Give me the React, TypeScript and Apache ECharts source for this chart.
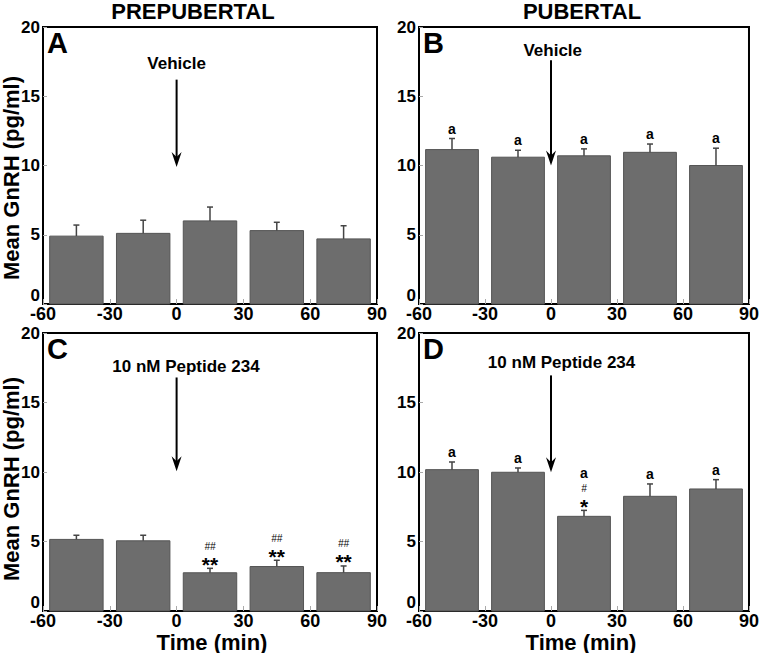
import React, { useEffect, useRef } from "react";
import * as echarts from "echarts";

// ---- data ----
const timePoints = [-45, -15, 15, 45, 75];
const xTicks = [-60, -30, 0, 30, 60, 90];
const yTicks = [0, 5, 10, 15, 20];

const prepVehicleMean = [4.9, 5.1, 6.0, 5.3, 4.7];
const prepVehicleSem = [0.8, 0.95, 1.0, 0.6, 0.95];
const prepVehicleSig = ["", "", "", "", ""];

const pubVehicleMean = [11.15, 10.6, 10.7, 10.95, 10.0];
const pubVehicleSem = [0.8, 0.5, 0.5, 0.6, 1.25];
const pubVehicleSig = ["a", "a", "a", "a", "a"];

const prepPeptideMean = [5.15, 5.05, 2.75, 3.2, 2.76];
const prepPeptideSem = [0.3, 0.4, 0.32, 0.45, 0.48];
const prepPeptideSig = ["", "", "##|**", "##|**", "##|**"];

const pubPeptideMean = [10.17, 9.98, 6.81, 8.25, 8.78];
const pubPeptideSem = [0.55, 0.31, 0.43, 0.89, 0.67];
const pubPeptideSig = ["a", "a", "a|#|*", "a", "a"];

const panelLetters = ["A", "B", "C", "D"];
const treatments = ["Vehicle", "Vehicle", "10 nM Peptide 234", "10 nM Peptide 234"];
// [arrowX, arrowStartY, arrowEndY, textX, textY]
const arrowData = [
  [0, 16.2, 9.9, 0, 17.4],
  [0, 17.6, 10.0, 0.8, 18.3],
  [0, 16.8, 10.05, 4.2, 17.6],
  [0, 16.95, 9.98, 4.8, 17.9],
];
const columnTitles = ["PREPUBERTAL", "PUBERTAL"];
const yAxisTitle = "Mean GnRH (pg/ml)";
const xAxisTitle = "Time (min)";

const panels = [
  { mean: prepVehicleMean, sem: prepVehicleSem, sig: prepVehicleSig },
  { mean: pubVehicleMean, sem: pubVehicleSem, sig: pubVehicleSig },
  { mean: prepPeptideMean, sem: prepPeptideSem, sig: prepPeptideSig },
  { mean: pubPeptideMean, sem: pubPeptideSem, sig: pubPeptideSig },
];

const FONT = "Liberation Sans, Arial, Helvetica, sans-serif";
const HALF_W = 12;

const grids = [
  { left: 43, top: 27, width: 334, height: 277 },
  { left: 419, top: 27, width: 332, height: 277 },
  { left: 43, top: 333, width: 334, height: 278 },
  { left: 419, top: 333, width: 332, height: 278 },
];

export default function App() {
  const ref = useRef<HTMLDivElement>(null);
  useEffect(() => {
    if (!ref.current) return;
    const chart = echarts.init(ref.current, null, { renderer: "svg" });

    const xAxes = grids.map((_, i) => ({
      type: "value",
      gridIndex: i,
      min: xTicks[0],
      max: xTicks[xTicks.length - 1],
      interval: 30,
      axisLine: { show: true, onZero: false, lineStyle: { color: "#000", width: 2 } },
      axisTick: { show: true, inside: true, length: 5, lineStyle: { color: "#aaa" } },
      splitLine: { show: false },
      axisLabel: {
        color: "#000",
        fontFamily: FONT,
        fontWeight: "bold",
        fontSize: 18,
        margin: 1,
      },
    }));
    const yAxes = grids.map((_, i) => ({
      type: "value",
      gridIndex: i,
      min: yTicks[0],
      max: yTicks[yTicks.length - 1],
      interval: 5,
      axisLine: { show: true, onZero: false, lineStyle: { color: "#000", width: 2 } },
      axisTick: { show: true, inside: true, length: 4, lineStyle: { color: "#aaa" } },
      splitLine: { show: false },
      axisLabel: {
        color: "#000",
        fontFamily: FONT,
        fontWeight: "bold",
        fontSize: 17,
        margin: 3,
        verticalAlignMinLabel: "bottom",
      },
    }));

    const series: any[] = [];
    panels.forEach((p, i) => {
      const data = timePoints.map((t, k) => [t, p.mean[k], p.sem[k], k]);
      // bars
      series.push({
        type: "custom",
        xAxisIndex: i,
        yAxisIndex: i,
        data,
        renderItem: (params: any, api: any) => {
          const x = api.value(0);
          const y = api.value(1);
          const p0 = api.coord([x - HALF_W, y]);
          const p1 = api.coord([x + HALF_W, 0]);
          return {
            type: "rect",
            shape: { x: p0[0], y: p0[1], width: p1[0] - p0[0], height: p1[1] - p0[1] },
            style: { fill: "#6d6d6d", stroke: "#555", lineWidth: 1 },
          };
        },
      });
      // error bars + significance marks
      series.push({
        type: "custom",
        xAxisIndex: i,
        yAxisIndex: i,
        data,
        z: 5,
        renderItem: (params: any, api: any) => {
          const x = api.value(0);
          const y = api.value(1);
          const s = api.value(2);
          const k = api.value(3);
          const b = api.coord([x, y]);
          const t = api.coord([x, y + s]);
          const children: any[] = [
            { type: "line", shape: { x1: b[0], y1: b[1], x2: t[0], y2: t[1] }, style: { stroke: "#444", lineWidth: 1.5 } },
            { type: "line", shape: { x1: t[0] - 3, y1: t[1], x2: t[0] + 3, y2: t[1] }, style: { stroke: "#444", lineWidth: 1.5 } },
          ];
          const sig = p.sig[k];
          if (sig) {
            const parts = sig.split("|").reverse();
            let cur = t[1];
            let prev = "";
            parts.forEach((part: string) => {
              let glyphC = cur;
              let size = 14;
              let off = -1.3;
              let weight = "bold";
              let style = "normal";
              if (part.startsWith("*")) {
                glyphC = cur - 9;
                size = 21;
                off = 5;
              } else if (part.startsWith("#")) {
                glyphC = prev ? cur - 13 : cur - 8;
                size = 10;
                off = 0;
                weight = "normal";
                style = "italic";
              } else {
                glyphC = prev ? cur - 14.5 : cur - 8.5;
              }
              children.push({
                type: "text",
                style: {
                  text: part,
                  x: t[0],
                  y: glyphC + off,
                  align: "center",
                  verticalAlign: "middle",
                  fontFamily: FONT,
                  fontWeight: weight,
                  fontStyle: style,
                  fontSize: size,
                  fill: "#000",
                },
              });
              cur = glyphC;
              prev = part;
            });
          }
          return { type: "group", children };
        },
      });
      // arrow + treatment text
      series.push({
        type: "custom",
        xAxisIndex: i,
        yAxisIndex: i,
        data: [arrowData[i]],
        z: 6,
        renderItem: (params: any, api: any) => {
          const a = api.coord([api.value(0), api.value(1)]);
          const e = api.coord([api.value(0), api.value(2)]);
          const tp = api.coord([api.value(3), api.value(4)]);
          return {
            type: "group",
            children: [
              { type: "line", shape: { x1: a[0], y1: a[1], x2: e[0], y2: e[1] - 8 }, style: { stroke: "#000", lineWidth: 2 } },
              {
                type: "polygon",
                shape: { points: [[e[0], e[1]], [e[0] - 5, e[1] - 15], [e[0], e[1] - 10], [e[0] + 5, e[1] - 15]] },
                style: { fill: "#000" },
              },
              {
                type: "text",
                style: {
                  text: treatments[i],
                  x: tp[0],
                  y: tp[1],
                  align: "center",
                  verticalAlign: "middle",
                  fontFamily: FONT,
                  fontWeight: "bold",
                  fontSize: 17,
                  fill: "#000",
                },
              },
            ],
          };
        },
      });
    });

    const graphic: any[] = [];
    grids.forEach((g, i) => {
      graphic.push({
        type: "text",
        left: g.left + 4,
        top: g.top + 1,
        style: { text: panelLetters[i], fontFamily: FONT, fontWeight: "bold", fontSize: 29, fill: "#000" },
      });
    });
    graphic.push({
      type: "text",
      x: 193,
      y: 11,
      style: { text: columnTitles[0], align: "center", verticalAlign: "middle", fontFamily: FONT, fontWeight: "bold", fontSize: 22, fill: "#000" },
    });
    graphic.push({
      type: "text",
      x: 582,
      y: 11,
      style: { text: columnTitles[1], align: "center", verticalAlign: "middle", fontFamily: FONT, fontWeight: "bold", fontSize: 22, fill: "#000" },
    });
    [178, 479].forEach((cy) => {
      graphic.push({
        type: "text",
        x: 11,
        y: cy,
        rotation: Math.PI / 2,
        style: { text: yAxisTitle, align: "center", verticalAlign: "middle", fontFamily: FONT, fontWeight: "bold", fontSize: 22, fill: "#000" },
      });
    });
    [212, 581].forEach((cx) => {
      graphic.push({
        type: "text",
        x: cx,
        y: 642,
        style: { text: xAxisTitle, align: "center", verticalAlign: "middle", fontFamily: FONT, fontWeight: "bold", fontSize: 22, fill: "#000" },
      });
    });

    chart.setOption({
      animation: false,
      backgroundColor: "#fff",
      grid: grids.map((g) => ({ ...g, show: true, borderColor: "#000", borderWidth: 2, backgroundColor: "transparent" })),
      xAxis: xAxes,
      yAxis: yAxes,
      series,
      graphic,
    });
    return () => chart.dispose();
  }, []);
  return <div ref={ref} style={{ position: "absolute", left: 0, top: 0, width: 762, height: 653 }} />;
}
